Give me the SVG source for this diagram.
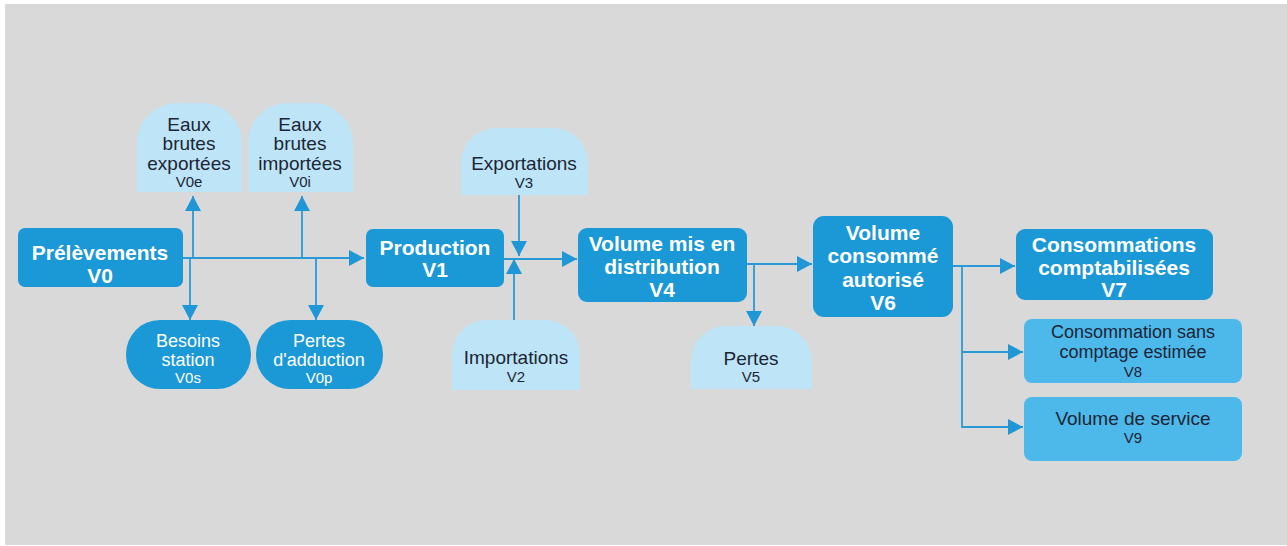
<svg xmlns="http://www.w3.org/2000/svg" width="1287" height="546" viewBox="0 0 1287 546">
<defs>
<marker id="ah" markerUnits="userSpaceOnUse" markerWidth="16" markerHeight="16" refX="15" refY="8" orient="auto">
<path d="M0,0 L15,8 L0,16 Z" fill="#1f97d6"/>
</marker>
<style>
.main{fill:#1b98d6;}
.light{fill:#bde5f7;}
.mid{fill:#4db9ea;}
.bt{font-family:"Liberation Sans",Arial,sans-serif;font-weight:bold;font-size:21px;fill:#ffffff;text-anchor:middle;}
.wt{font-family:"Liberation Sans",Arial,sans-serif;font-size:18px;fill:#ffffff;text-anchor:middle;}
.wts{font-family:"Liberation Sans",Arial,sans-serif;font-size:15px;fill:#ffffff;text-anchor:middle;}
.dt{font-family:"Liberation Sans",Arial,sans-serif;font-size:19px;fill:#1c2536;text-anchor:middle;}
.dm{font-family:"Liberation Sans",Arial,sans-serif;font-size:18px;fill:#1c2536;text-anchor:middle;}
.ds{font-family:"Liberation Sans",Arial,sans-serif;font-size:15px;fill:#1c2536;text-anchor:middle;}
.ln{fill:none;stroke:#2a9ad6;stroke-width:1.8;}
</style>
</defs>
<rect x="0" y="0" width="1287" height="546" fill="#ffffff"/>
<rect x="5" y="4" width="1282" height="541" fill="#d9d9d9"/>

<g id="connectors">
<path class="ln" d="M183,258 H364" marker-end="url(#ah)"/>
<path class="ln" d="M193,258 V196" marker-end="url(#ah)"/>
<path class="ln" d="M302,258 V196" marker-end="url(#ah)"/>
<path class="ln" d="M190,258 V320" marker-end="url(#ah)"/>
<path class="ln" d="M316,258 V320" marker-end="url(#ah)"/>
<path class="ln" d="M504,259 H577" marker-end="url(#ah)"/>
<path class="ln" d="M519,195 V256" marker-end="url(#ah)"/>
<path class="ln" d="M514,320 V259" marker-end="url(#ah)"/>
<path class="ln" d="M747,264 H812" marker-end="url(#ah)"/>
<path class="ln" d="M754,264 V326" marker-end="url(#ah)"/>
<path class="ln" d="M953,266 H1015" marker-end="url(#ah)"/>
<path class="ln" d="M962,266 V427 H1023" marker-end="url(#ah)"/>
<path class="ln" d="M962,352 H1023" marker-end="url(#ah)"/>
</g>

<g id="v0">
<rect class="main" x="18" y="228" width="165" height="59" rx="7"/>
<text class="bt" x="100" y="260">Prélèvements</text>
<text class="bt" x="100" y="283">V0</text>
</g>

<g id="v0e">
<path class="light" d="M137,192 V143 A40,40 0 0 1 177,103 H202 A40,40 0 0 1 242,143 V192 Z"/>
<text class="dt" x="189" y="131">Eaux</text>
<text class="dt" x="189" y="150">brutes</text>
<text class="dt" x="189" y="170">exportées</text>
<text class="ds" x="189" y="187">V0e</text>
</g>

<g id="v0i">
<path class="light" d="M248,192 V143 A40,40 0 0 1 288,103 H313 A40,40 0 0 1 353,143 V192 Z"/>
<text class="dt" x="300" y="131">Eaux</text>
<text class="dt" x="300" y="150">brutes</text>
<text class="dt" x="300" y="170">importées</text>
<text class="ds" x="300" y="187">V0i</text>
</g>

<g id="v0s">
<rect class="main" x="126" y="320" width="125" height="69" rx="34"/>
<text class="wt" x="188" y="347">Besoins</text>
<text class="wt" x="188" y="366">station</text>
<text class="wts" x="188" y="383">V0s</text>
</g>

<g id="v0p">
<rect class="main" x="256" y="320" width="127" height="69" rx="34"/>
<text class="wt" x="319" y="347">Pertes</text>
<text class="wt" x="319" y="366">d'adduction</text>
<text class="wts" x="319" y="383">V0p</text>
</g>

<g id="v1">
<rect class="main" x="366" y="229" width="138" height="58" rx="7"/>
<text class="bt" x="435" y="255">Production</text>
<text class="bt" x="435" y="277">V1</text>
</g>

<g id="v3">
<path class="light" d="M461,195 V163 A35,35 0 0 1 496,128 H553 A35,35 0 0 1 588,163 V195 Z"/>
<text class="dt" x="524" y="170">Exportations</text>
<text class="ds" x="524" y="188">V3</text>
</g>

<g id="v2">
<path class="light" d="M452,390 V355 A35,35 0 0 1 487,320 H545 A35,35 0 0 1 580,355 V390 Z"/>
<text class="dt" x="516" y="364">Importations</text>
<text class="ds" x="516" y="382">V2</text>
</g>

<g id="v4">
<rect class="main" x="578" y="228" width="169" height="74" rx="9"/>
<text class="bt" x="662" y="251">Volume mis en</text>
<text class="bt" x="662" y="274">distribution</text>
<text class="bt" x="662" y="297">V4</text>
</g>

<g id="v5">
<path class="light" d="M691,389 V361 A35,35 0 0 1 726,326 H777 A35,35 0 0 1 812,361 V389 Z"/>
<text class="dt" x="751" y="365">Pertes</text>
<text class="ds" x="751" y="382">V5</text>
</g>

<g id="v6">
<rect class="main" x="813" y="216" width="140" height="101" rx="11"/>
<text class="bt" x="883" y="240">Volume</text>
<text class="bt" x="883" y="263">consommé</text>
<text class="bt" x="883" y="287">autorisé</text>
<text class="bt" x="883" y="310">V6</text>
</g>

<g id="v7">
<rect class="main" x="1016" y="229" width="197" height="71" rx="9"/>
<text class="bt" x="1114" y="252">Consommations</text>
<text class="bt" x="1114" y="275">comptabilisées</text>
<text class="bt" x="1114" y="297">V7</text>
</g>

<g id="v8">
<rect class="mid" x="1024" y="319" width="218" height="64" rx="8"/>
<text class="dm" x="1133" y="338">Consommation sans</text>
<text class="dm" x="1133" y="358">comptage estimée</text>
<text class="ds" x="1133" y="377">V8</text>
</g>

<g id="v9">
<rect class="mid" x="1024" y="397" width="218" height="64" rx="8"/>
<text class="dt" x="1133" y="425">Volume de service</text>
<text class="ds" x="1133" y="443">V9</text>
</g>
</svg>
